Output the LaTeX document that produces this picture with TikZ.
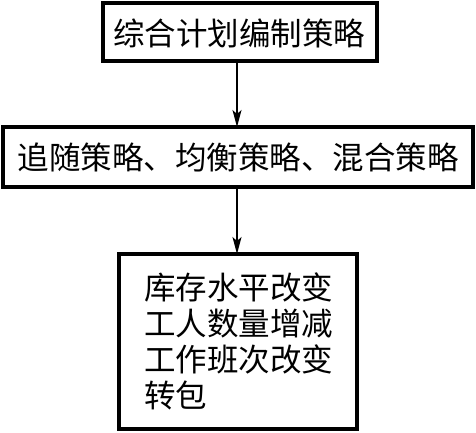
\documentclass[tikz,border=0pt]{standalone}
\usepackage{fontspec}
\newfontfamily\cjk{Noto Sans CJK SC}
\usetikzlibrary{arrows.meta}
\begin{document}
\begin{tikzpicture}[x=1pt,y=-1pt,
  boxstyle/.style={draw,line width=3.4pt},
  txt/.style={font=\cjk\fontsize{31.5}{36}\selectfont,inner sep=0pt},
  arr/.style={line width=1.1pt,-{Stealth[length=17pt,width=9pt,inset=4pt]}}]
\useasboundingbox (0,0) rectangle (476,432);
\draw[boxstyle] (103,3) rectangle (377,61);
\node[txt] (t1) at (239,33) {综合计划编制策略};
\draw[boxstyle] (3,127) rectangle (473,187);
\node[txt] (t2) at (238,157) {追随策略、均衡策略、混合策略};
\draw[boxstyle] (119,254) rectangle (357,429);
\node[txt,anchor=north west,align=left] (t3) at (144,273) {库存水平改变\\工人数量增减\\工作班次改变\\转包};
\coordinate (a1) at (237,61);
\coordinate (b1) at (237,127);
\coordinate (a2) at (237,187);
\coordinate (b2) at (237,254);
\draw[arr] (a1) -- (b1);
\draw[arr] (a2) -- (b2);
\end{tikzpicture}
\end{document}
